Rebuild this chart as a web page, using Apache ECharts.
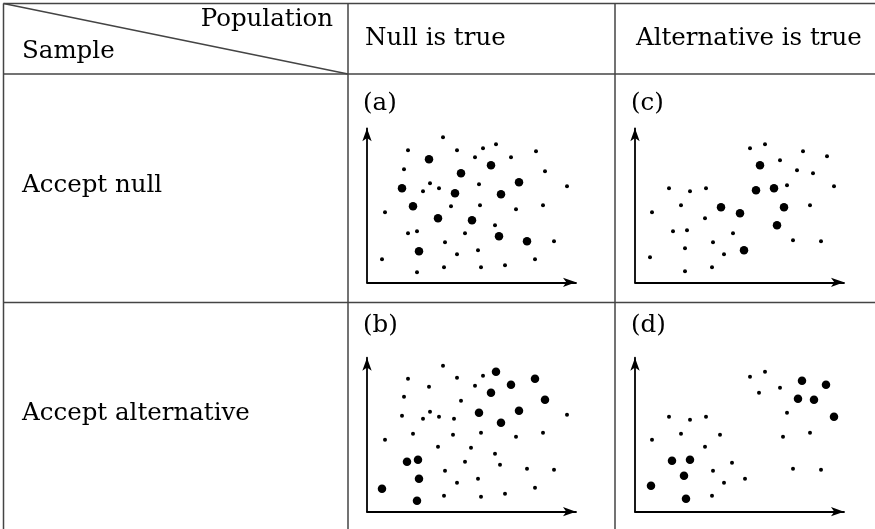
<!DOCTYPE html>
<html>
<head>
<meta charset="utf-8">
<script src="https://cdn.jsdelivr.net/npm/echarts@6/dist/echarts.min.js"></script>
<style>
  html, body { margin: 0; padding: 0; background: #fff; }
  #chart { width: 875px; height: 529px; }
</style>
</head>
<body>
<div id="chart"></div>
<script>
// Table headings
const columnHeads = ['Null is true', 'Alternative is true'];
const rowHeads = ['Accept null', 'Accept alternative'];
const cornerHeads = ['Population', 'Sample'];
const panelTags = ['(a)', '(c)', '(b)', '(d)'];

// Panel (a): null true, accept null
const aSmall = [[76,145],[41,132],[90,132],[116,134],[129,138],[108,125],[144,125],[169,131],[37,113],[178,111],
  [63,99],[56,91],[72,94],[112,98],[200,96],[18,70],[84,76],[113,77],[149,73],[176,77],[128,57],[41,49],[50,51],
  [98,49],[78,40],[187,41],[90,28],[111,32],[15,23],[50,10],[77,15],[114,15],[138,17],[168,23]];
const aBig = [[62,123],[94,109],[124,117],[35,94],[88,89],[134,88],[152,100],[46,76],[71,64],[105,62],[132,46],[160,41],[52,31]];

// Panel (c): alternative true, accept null
const cSmall = [[115,134],[130,138],[145,122],[168,131],[192,126],[162,112],[178,109],[34,94],[55,91],[71,94],
  [152,97],[199,96],[17,70],[46,77],[70,64],[175,77],[38,51],[52,52],[98,49],[78,40],[158,42],[186,41],[50,34],
  [89,28],[15,25],[50,11],[77,15]];
const cBig = [[125,117],[121,92],[139,94],[149,75],[86,75],[105,69],[142,57],[109,32]];

// Panel (b): null true, accept alternative
const bSmall = [[76,146],[41,133],[90,134],[116,136],[108,126],[62,125],[37,115],[94,111],[63,100],[35,96],
  [56,93],[72,95],[87,93],[200,97],[18,72],[46,78],[86,77],[114,79],[149,75],[176,79],[71,65],[104,64],[128,58],
  [98,50],[133,47],[78,41],[160,43],[187,42],[90,29],[111,33],[77,16],[114,15],[138,18],[168,24]];
const bBig = [[129,140],[144,127],[168,133],[124,119],[178,112],[112,99],[152,101],[134,89],[40,50],[51,52],[52,33],[15,23],[50,11]];

// Panel (d): alternative true, accept alternative
const dSmall = [[115,135],[130,140],[145,124],[124,119],[152,99],[34,95],[55,92],[71,95],[17,72],[46,78],[85,77],
  [70,65],[148,75],[175,79],[97,49],[78,41],[89,29],[110,33],[158,43],[186,42],[77,16]];
const dBig = [[167,131],[191,127],[163,113],[179,112],[199,95],[37,51],[55,52],[49,36],[16,26],[51,13]];

const FONT = '"DejaVu Serif", serif';
const INK = '#000';
const RULE = '#444';

// Panel placement: [left, top] of each plot area
const panels = [
  { tag: panelTags[0], left: 367, top: 128.3, small: aSmall, big: aBig },
  { tag: panelTags[1], left: 635, top: 128.3, small: cSmall, big: cBig },
  { tag: panelTags[2], left: 367, top: 357.7, small: bSmall, big: bBig },
  { tag: panelTags[3], left: 635, top: 357.7, small: dSmall, big: dBig }
];
const PW = 209, PH = 154;

const grid = [], xAxis = [], yAxis = [], series = [];
const axisStyle = {
  show: true,
  symbol: ['none', 'arrow'],
  symbolSize: [7, 13],
  lineStyle: { color: INK, width: 1.8 }
};
panels.forEach((p, i) => {
  grid.push({ left: p.left, top: p.top, width: PW, height: PH });
  xAxis.push({ gridIndex: i, type: 'value', min: 0, max: PW, axisLine: axisStyle,
    axisTick: { show: false }, axisLabel: { show: false }, splitLine: { show: false } });
  yAxis.push({ gridIndex: i, type: 'value', min: 0, max: PH, axisLine: axisStyle,
    axisTick: { show: false }, axisLabel: { show: false }, splitLine: { show: false } });
  series.push({ type: 'scatter', xAxisIndex: i, yAxisIndex: i, data: p.small, symbolSize: 4,
    itemStyle: { color: INK, opacity: 1 }, silent: true, animation: false });
  series.push({ type: 'scatter', xAxisIndex: i, yAxisIndex: i, data: p.big, symbolSize: 8.5,
    itemStyle: { color: INK, opacity: 1 }, silent: true, animation: false });
});

function rule(x1, y1, x2, y2) {
  return { type: 'line', shape: { x1, y1, x2, y2 }, style: { stroke: RULE, lineWidth: 1.5 }, silent: true };
}
function label(text, x, y, align) {
  return { type: 'text', x, y, style: { text, font: '24.5px ' + FONT, fill: INK,
    align: align || 'left', verticalAlign: 'middle' }, silent: true };
}

const graphic = [
  rule(3.5, 3.5, 875, 3.5),
  rule(3.5, 74, 875, 74),
  rule(3.5, 302.5, 875, 302.5),
  rule(3.5, 3.5, 3.5, 529),
  rule(348, 3.5, 348, 529),
  rule(615, 3.5, 615, 529),
  rule(3.5, 3.5, 348, 74),
  label(cornerHeads[0], 333, 20, 'right'),
  label(cornerHeads[1], 22, 52),
  label(columnHeads[0], 365, 39),
  label(columnHeads[1], 636, 39),
  label(rowHeads[0], 22, 186),
  label(rowHeads[1], 22, 414)
];
panels.forEach((p, i) => {
  graphic.push(label(p.tag, p.left - 4, i < 2 ? 104 : 326));
});

const chart = echarts.init(document.getElementById('chart'), null, { renderer: 'canvas' });
chart.setOption({ animation: false, grid, xAxis, yAxis, series, graphic });
</script>
</body>
</html>
